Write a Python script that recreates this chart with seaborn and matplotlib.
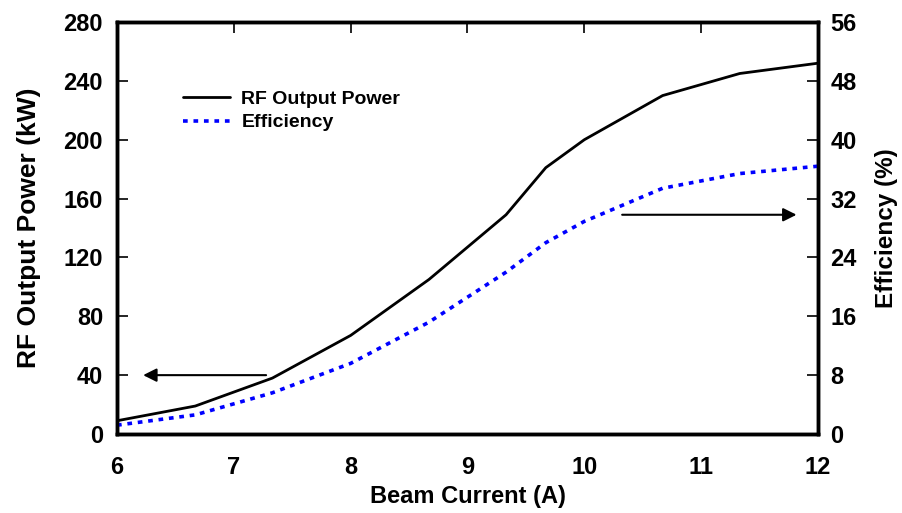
import matplotlib
matplotlib.use("Agg")
import matplotlib.pyplot as plt
import seaborn as sns
import pandas as pd
from matplotlib.lines import Line2D

beam_current = [6.0, 6.67, 7.33, 8.0, 8.67, 9.33, 9.67, 10.0, 10.67, 11.33, 12.0]
rf_power_kw = [9, 19, 38, 67, 105, 149, 181, 200, 230, 245, 252]
efficiency_pct = [1.2, 2.6, 5.6, 9.6, 15.2, 22.0, 26.0, 28.9, 33.4, 35.4, 36.4]
x_ticks = [6, 7, 8, 9, 10, 11, 12]
power_ticks = [0, 40, 80, 120, 160, 200, 240, 280]
eff_ticks = [0, 8, 16, 24, 32, 40, 48, 56]

sns.set_theme(style="white")
plt.rcParams["font.family"] = ["Liberation Sans", "DejaVu Sans"]
plt.rcParams.update({"text.color": "black", "axes.labelcolor": "black",
                     "xtick.color": "black", "ytick.color": "black"})

df = pd.DataFrame({"I": beam_current, "P": rf_power_kw, "E": efficiency_pct})

fig = plt.figure(figsize=(9.03, 5.13), dpi=100)
ax = fig.add_axes([117/903, 1-434/513, (818-117)/903, (434-22)/513])
ax2 = ax.twinx()

sns.lineplot(data=df, x="I", y="P", ax=ax, color="black", lw=2.0)
sns.lineplot(data=df, x="I", y="E", ax=ax2, color="#0000ff", lw=2.6,
             linestyle=(0, (1.3, 1.6)))

ax.set_xlim(6, 12)
ax.set_ylim(0, 280)
ax2.set_ylim(0, 56)
ax.set_xticks(x_ticks)
ax.set_yticks(power_ticks)
ax2.set_yticks(eff_ticks)

tick_font = dict(weight="bold", size=17)
ax.set_xticklabels([str(t) for t in x_ticks], fontdict=tick_font)
ax.set_yticklabels([str(t) for t in power_ticks], fontdict=tick_font)
ax2.set_yticklabels([str(t) for t in eff_ticks], fontdict=tick_font)

ax.set_xlabel("Beam Current (A)", weight="bold", size=17, labelpad=4)
ax.set_ylabel("RF Output Power (kW)", weight="bold", size=19, labelpad=16)
ax2.set_ylabel("Efficiency (%)", weight="bold", size=17.5, labelpad=13)

for a in (ax, ax2):
    for s in a.spines.values():
        s.set_linewidth(2.5)
        s.set_color("black")
ax.tick_params(axis="x", direction="in", length=8, width=1.2, top=True, pad=16)
ax.tick_params(axis="y", direction="in", length=8, width=1.2, left=True, right=False, pad=10)
ax2.tick_params(axis="y", direction="in", length=8, width=1.2, right=True, left=False, pad=9)

ax.annotate("", xy=(6.2, 40), xytext=(7.3, 40),
            arrowprops=dict(arrowstyle="-|>", color="black", lw=1.5, mutation_scale=20))
ax.annotate("", xy=(11.84, 149), xytext=(10.3, 149),
            arrowprops=dict(arrowstyle="-|>", color="black", lw=1.5, mutation_scale=20))

handles = [Line2D([], [], color="black", lw=2.0),
           Line2D([], [], color="#0000ff", lw=2.6, linestyle=(0, (1.3, 1.6)))]
ax2.legend(handles, ["RF Output Power", "Efficiency"], loc="upper left",
           bbox_to_anchor=(0.083, 0.853), frameon=False, handlelength=2.4,
           handletextpad=0.6, labelspacing=0.3, borderaxespad=0,
           prop=dict(family="Liberation Sans", weight="bold", size=14))

fig.savefig("out.png", dpi=100)
